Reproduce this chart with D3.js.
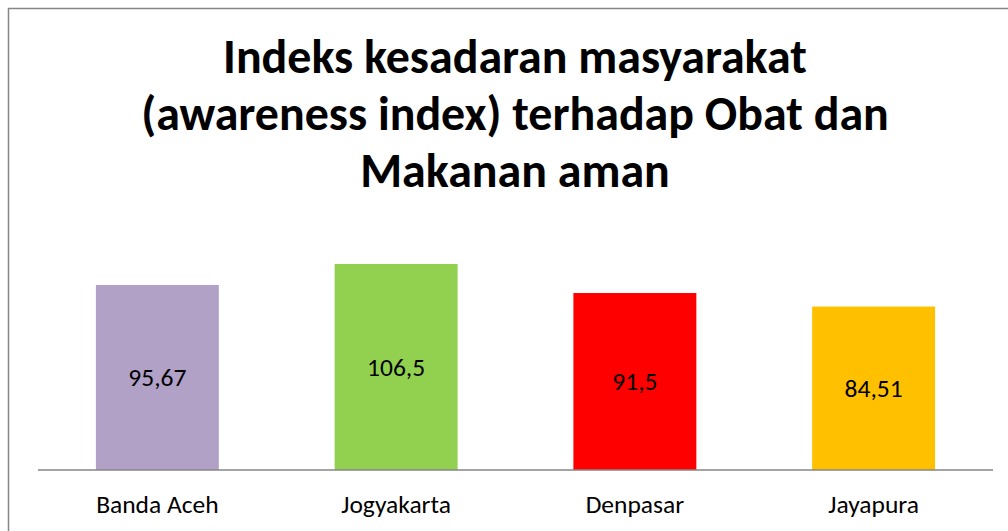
<!DOCTYPE html>
<html>

<head>
    <style>
        body { margin: 0; background: #fff; }
        text { font-family: Calibri, Carlito, Lato, "Open Sans", sans-serif; fill: #000; }
    </style>
    <script src="https://d3js.org/d3.v7.min.js"></script>
</head>

<body>

    <svg width="1008" height="531"></svg>

    <script>
        // data
        const cities = ["Banda Aceh", "Jogyakarta", "Denpasar", "Jayapura"]
        const awareness = [95.67, 106.5, 91.5, 84.51]
        const valueLabels = ["95,67", "106,5", "91,5", "84,51"]
        const barColors = ["#B2A1C7", "#92D050", "#FF0000", "#FFC000"]
        const titleLines = ["Indeks kesadaran masyarakat", "(awareness index) terhadap Obat dan", "Makanan aman"]

        const svg = d3.select("svg")

        // chart frame (runs off the right / bottom of the picture)
        svg.append("rect")
            .attr("x", 8.5).attr("y", 8.5)
            .attr("width", 1020).attr("height", 540)
            .attr("fill", "#fff")
            .attr("stroke", "#868686")
            .attr("stroke-width", 1.5)

        const plot = { left: 38, right: 993, bottom: 470 }
        const labelSize = "25.5px"

        const x = d3.scaleBand()
            .domain(cities)
            .range([plot.left, plot.right])
            .paddingInner(0.485)
            .paddingOuter(0.2425)

        const y = d3.scaleLinear()
            .domain([0, 120])
            .range([plot.bottom, plot.bottom - 232.1])

        const data = cities.map((c, i) => ({ city: c, v: awareness[i], label: valueLabels[i], color: barColors[i] }))

        svg.append("g").selectAll("rect")
            .data(data)
            .join("rect")
            .attr("x", d => x(d.city))
            .attr("y", d => y(d.v))
            .attr("width", x.bandwidth())
            .attr("height", d => y(0) - y(d.v))
            .attr("fill", d => d.color)

        // value labels centred in the bars
        svg.append("g").selectAll("text")
            .data(data)
            .join("text")
            .attr("x", d => x(d.city) + x.bandwidth() / 2)
            .attr("y", d => (y(d.v) + y(0)) / 2)
            .attr("dy", "0.35em")
            .attr("text-anchor", "middle")
            .style("font-size", labelSize)
            .text(d => d.label)

        // category axis
        const xAxis = svg.append("g")
            .attr("transform", `translate(0,${plot.bottom})`)
            .call(d3.axisBottom(x).tickSize(0).tickPadding(0))
        xAxis.select(".domain").attr("stroke", "#868686").attr("stroke-width", 1.5)
            .attr("d", `M${plot.left},0H${plot.right}`)
        xAxis.selectAll(".tick text")
            .attr("y", 43)
            .attr("dy", 0)
            .style("font-size", labelSize)
            .style("font-family", "Calibri, Carlito, Lato, 'Open Sans', sans-serif")
            .attr("fill", "#000")

        // title
        const title = svg.append("g")
        const baselines = [73, 130, 187]
        title.selectAll("text")
            .data(titleLines)
            .join("text")
            .attr("x", 515)
            .attr("y", (d, i) => baselines[i])
            .attr("text-anchor", "middle")
            .style("font-size", "44px")
            .style("font-weight", "bold")
            .text(d => d)

        // fit the first title line to the width seen in the reference
        const w = title.select("text").node().getComputedTextLength()
        const fs = 44 * 584 / w
        title.selectAll("text").style("font-size", fs + "px")

    </script>
</body>

</html>
